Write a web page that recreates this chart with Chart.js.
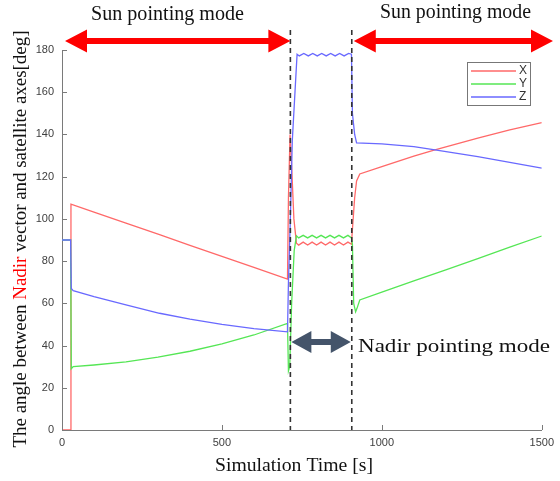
<!DOCTYPE html>
<html>
<head>
<meta charset="utf-8">
<script src="https://cdn.jsdelivr.net/npm/chart.js@4"></script>
<style>
  html, body { margin: 0; padding: 0; background: #fff; }
  #wrap { width: 560px; height: 481px; }
</style>
</head>
<body>
<div id="wrap"><canvas id="angleChart" width="560" height="481"></canvas></div>
<script>
// Tick labels
const xTicks = [0, 500, 1000, 1500];
const yTicks = [0, 20, 40, 60, 80, 100, 120, 140, 160, 180];

// Mode switch times [s]
const modeStart = 714;
const modeEnd = 906;

// X axis angle [deg]
const timeX = [0, 27, 28, 100, 200, 305, 400, 500, 600, 705, 708, 713, 718, 725, 733,
    740, 754, 768, 782, 796, 810, 824, 838, 852, 866, 880, 894,
    905, 908, 915, 921, 931, 1000, 1100, 1166, 1300, 1400, 1500];
const angleX = [0, 0, 107, 103.2, 98, 92.5, 87.5, 82.2, 77, 71.5, 110, 140, 125, 100, 88.5,
    87.6, 89, 87.6, 89, 87.6, 89, 87.6, 89, 87.6, 89, 87.6, 89,
    88, 95, 110, 118, 121.3, 124.8, 129.7, 132.7, 138.3, 142.2, 145.6];

// Y axis angle [deg]
const timeY = [0, 27, 29, 35, 100, 200, 300, 400, 500, 600, 705, 708, 712, 718, 726, 733,
    740, 754, 768, 782, 796, 810, 824, 838, 852, 866, 880, 894,
    905, 908, 912, 918, 922, 931, 1000, 1100, 1200, 1300, 1400, 1500];
const angleY = [90, 90, 29, 30, 30.8, 32.3, 34.5, 37.3, 40.8, 45, 50.5, 28, 30, 60, 85, 92,
    91, 92.2, 91, 92.2, 91, 92.2, 91, 92.2, 91, 92.2, 91, 92.2,
    91, 88, 60, 56, 57.5, 61.6, 65.3, 70.6, 75.9, 81.2, 86.6, 91.9];

// Z axis angle [deg]
const timeZ = [0, 27, 29, 35, 100, 200, 305, 400, 500, 600, 705, 708, 714, 720, 735,
    742, 756, 770, 784, 798, 812, 826, 840, 854, 868, 882, 896,
    905, 908, 915, 921, 1000, 1100, 1166, 1300, 1400, 1500];
const angleZ = [90, 90, 67, 66, 63.2, 59.3, 55.3, 52.5, 50, 48, 46.5, 70, 100, 137, 178,
    177.2, 178.4, 177.2, 178.4, 177.2, 178.4, 177.2, 178.4, 177.2, 178.4, 177.2, 178.4,
    178, 150, 140, 136, 135.5, 134.2, 132.7, 129.5, 126.8, 124];

const toPoints = (ts, vs) => ts.map((t, i) => ({ x: t, y: vs[i] }));

const serif = '"Liberation Serif", "Times New Roman", serif';
const sans = '"Liberation Sans", Arial, sans-serif';

function doubleArrow(ctx, x1, x2, y, shaft, headLen, headH, color) {
    ctx.save();
    ctx.fillStyle = color;
    ctx.beginPath();
    ctx.moveTo(x1, y);
    ctx.lineTo(x1 + headLen, y - headH / 2);
    ctx.lineTo(x1 + headLen, y - shaft / 2);
    ctx.lineTo(x2 - headLen, y - shaft / 2);
    ctx.lineTo(x2 - headLen, y - headH / 2);
    ctx.lineTo(x2, y);
    ctx.lineTo(x2 - headLen, y + headH / 2);
    ctx.lineTo(x2 - headLen, y + shaft / 2);
    ctx.lineTo(x1 + headLen, y + shaft / 2);
    ctx.lineTo(x1 + headLen, y + headH / 2);
    ctx.closePath();
    ctx.fill();
    ctx.restore();
}

// text stretched to a given width, as in the source figure
function fitText(ctx, txt, x, y, width) {
    const w = ctx.measureText(txt).width;
    ctx.save();
    ctx.translate(x, y);
    ctx.scale(width / w, 1);
    ctx.textAlign = 'left';
    ctx.fillText(txt, 0, 0);
    ctx.restore();
}

const decorations = {
    id: 'decorations',
    afterDraw(chart) {
        const ctx = chart.ctx;
        const area = chart.chartArea;
        const xs = chart.scales.x;
        const ys = chart.scales.y;

        // inward ticks
        ctx.save();
        ctx.strokeStyle = '#7a7a7a';
        ctx.lineWidth = 1;
        ctx.beginPath();
        xTicks.forEach(v => {
            const px = Math.round(xs.getPixelForValue(v)) + 0.5;
            ctx.moveTo(px, area.bottom);
            ctx.lineTo(px, area.bottom - 5);
        });
        yTicks.forEach(v => {
            const py = Math.round(ys.getPixelForValue(v)) + 0.5;
            ctx.moveTo(area.left, py);
            ctx.lineTo(area.left + 5, py);
        });
        ctx.stroke();
        ctx.restore();

        // mode boundaries
        const x1 = xs.getPixelForValue(modeStart);
        const x2 = xs.getPixelForValue(modeEnd);
        ctx.save();
        ctx.strokeStyle = '#333';
        ctx.lineWidth = 1.6;
        ctx.setLineDash([5, 4]);
        [x1, x2].forEach(px => {
            ctx.beginPath();
            ctx.moveTo(px, 30);
            ctx.lineTo(px, area.bottom);
            ctx.stroke();
        });
        ctx.restore();

        // arrows
        doubleArrow(ctx, area.left + 3, x1, 41, 6, 22, 23, '#ff0000');
        doubleArrow(ctx, x2 + 2, 553, 41, 6, 22, 23, '#ff0000');
        doubleArrow(ctx, x1 + 1, x2 - 1, 342, 6, 20, 22, '#44546a');

        // annotation texts
        ctx.save();
        ctx.fillStyle = '#111';
        ctx.textBaseline = 'middle';
        ctx.font = '20px ' + serif;
        fitText(ctx, 'Sun pointing mode', 91, 15, 153);
        fitText(ctx, 'Sun pointing mode', 380, 13, 151);
        ctx.font = '19px ' + serif;
        fitText(ctx, 'Nadir pointing mode', 358, 347, 192);

        // x title
        ctx.font = '19.5px ' + serif;
        fitText(ctx, 'Simulation Time [s]', 215, 466, 158);

        // y title, with red "Nadir"
        ctx.translate(21, 239);
        ctx.rotate(-Math.PI / 2);
        ctx.font = '19px ' + serif;
        const parts = [['The angle between ', '#111'], ['Nadir', '#ff0000'], [' vector and satellite axes[deg]', '#111']];
        const total = parts.reduce((s, p) => s + ctx.measureText(p[0]).width, 0);
        const sx = 417 / total;
        ctx.scale(sx, 1);
        let cx = -total / 2;
        ctx.textAlign = 'left';
        parts.forEach(([txt, col]) => {
            ctx.fillStyle = col;
            ctx.fillText(txt, cx, 0);
            cx += ctx.measureText(txt).width;
        });
        ctx.restore();

        // legend
        ctx.save();
        ctx.fillStyle = '#fff';
        ctx.fillRect(467.5, 62.5, 63, 43);
        ctx.strokeStyle = '#777';
        ctx.lineWidth = 1;
        ctx.strokeRect(467.5, 62.5, 63, 43);
        ctx.font = '12px ' + sans;
        ctx.textBaseline = 'middle';
        ctx.textAlign = 'left';
        [0, 1, 2].forEach((di, i) => {
            const ds = chart.data.datasets[di];
            const ly = 71 + i * 13;
            ctx.strokeStyle = ds.borderColor;
            ctx.lineWidth = 1.3;
            ctx.beginPath();
            ctx.moveTo(471, ly);
            ctx.lineTo(516, ly);
            ctx.stroke();
            ctx.fillStyle = '#333';
            ctx.fillText(ds.label, 519, ly);
        });
        ctx.restore();
    }
};

new Chart(document.getElementById('angleChart').getContext('2d'), {
    type: 'line',
    data: {
        datasets: [
            { label: 'X', data: toPoints(timeX, angleX), borderColor: 'rgb(255,105,105)', order: 2 },
            { label: 'Y', data: toPoints(timeY, angleY), borderColor: 'rgb(85,230,85)', order: 1 },
            { label: 'Z', data: toPoints(timeZ, angleZ), borderColor: 'rgb(105,105,255)', order: 0 }
        ].map(d => Object.assign(d, { borderWidth: 1.3, pointRadius: 0, tension: 0, fill: false }))
    },
    options: {
        responsive: false,
        animation: false,
        events: [],
        layout: { padding: { top: 50, right: 17, left: 0, bottom: 0 } },
        plugins: { legend: { display: false }, tooltip: { enabled: false } },
        scales: {
            x: {
                type: 'linear',
                min: 0,
                max: 1500,
                afterFit: s => { s.height = 51; },
                afterBuildTicks: s => { s.ticks = xTicks.map(v => ({ value: v })); },
                grid: { display: false, drawTicks: false },
                border: { display: true, color: '#7a7a7a', width: 1 },
                ticks: { padding: 6, color: '#404040', font: { family: sans, size: 11 }, maxRotation: 0, callback: v => String(v) }
            },
            y: {
                min: 0,
                max: 180,
                afterFit: s => { s.width = 62; },
                afterBuildTicks: s => { s.ticks = yTicks.map(v => ({ value: v })); },
                grid: { display: false, drawTicks: false },
                border: { display: true, color: '#7a7a7a', width: 1 },
                ticks: { padding: 8, color: '#404040', font: { family: sans, size: 11 }, callback: v => String(v) }
            }
        }
    },
    plugins: [decorations]
});
</script>
</body>
</html>
